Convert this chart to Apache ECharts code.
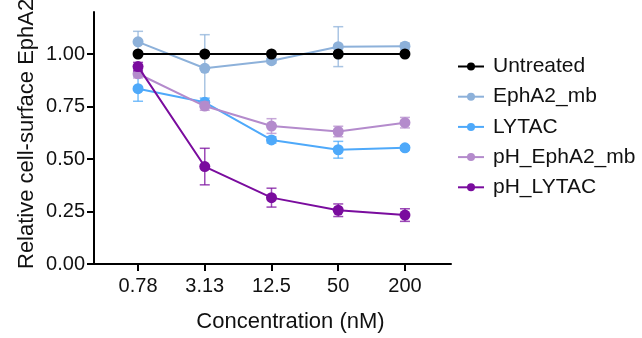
<!DOCTYPE html>
<html><head><meta charset="utf-8">
<script src="https://cdn.jsdelivr.net/npm/echarts@6/dist/echarts.min.js"></script>
<style>html,body{margin:0;padding:0;background:#fff}#c{width:642px;height:338px}</style>
</head><body><div id="c"></div>
<script>
var categories = ['0.78', '3.13', '12.5', '50', '200'];
var yTicks = [0, 0.25, 0.5, 0.75, 1.0];
var seriesNames = ['Untreated', 'EphA2_mb', 'LYTAC', 'pH_EphA2_mb', 'pH_LYTAC'];
var untreated = [1.0, 1.0, 1.0, 1.0, 1.0];
var untreatedErr = [0, 0, 0, 0, 0];
var epha2mb = [1.058, 0.932, 0.968, 1.035, 1.037];
var epha2mbErr = [0.05, 0.16, 0.012, 0.095, 0.015];
var lytac = [0.835, 0.770, 0.591, 0.544, 0.553];
var lytacErr = [0.06, 0.02, 0.015, 0.04, 0.01];
var phEpha2mb = [0.906, 0.752, 0.657, 0.631, 0.673];
var phEpha2mbErr = [0.02, 0.02, 0.035, 0.025, 0.025];
var phLytac = [0.94, 0.464, 0.316, 0.256, 0.233];
var phLytacErr = [0.02, 0.087, 0.045, 0.03, 0.03];
var colors = ['#000000', '#8db1da', '#4ea9fa', '#b48bcc', '#7a0c9e'];

var values = [untreated, epha2mb, lytac, phEpha2mb, phLytac];
var errs = [untreatedErr, epha2mbErr, lytacErr, phEpha2mbErr, phLytacErr];
var FONT = 'Liberation Sans, Arial, sans-serif';

var chart = echarts.init(document.getElementById('c'));
var series = [];
var order = [1, 2, 3, 4, 0];
order.forEach(function (si, k) {
  var vals = values[si], er = errs[si];
  var errData = vals.map(function (v, i) { return [i, v, er[i]]; });
  series.push({
    type: 'custom', name: seriesNames[si] + '_err', z: 2 + k * 2,
    data: errData, silent: true,
    renderItem: function (params, api) {
      var x = api.value(0), y = api.value(1), e = api.value(2);
      if (!e) return null;
      var top = api.coord([x, y + e]), bot = api.coord([x, y - e]);
      var hw = 5;
      var st = { stroke: colors[si], lineWidth: 1.5, opacity: 0.75 };
      return { type: 'group', children: [
        { type: 'line', shape: { x1: top[0], y1: top[1], x2: bot[0], y2: bot[1] }, style: st },
        { type: 'line', shape: { x1: top[0] - hw, y1: top[1], x2: top[0] + hw, y2: top[1] }, style: st },
        { type: 'line', shape: { x1: bot[0] - hw, y1: bot[1], x2: bot[0] + hw, y2: bot[1] }, style: st }
      ]};
    }
  });
  series.push({
    type: 'line', name: seriesNames[si], z: 3 + k * 2,
    data: vals.map(function (v, i) { return [i, v]; }),
    symbol: 'circle', symbolSize: 11,
    lineStyle: { color: colors[si], width: 2 },
    itemStyle: { color: colors[si] },
    emphasis: { disabled: true }
  });
});

chart.setOption({
  animation: false,
  grid: { left: 94, right: 191, top: 12, bottom: 72 },
  legend: {
    data: seriesNames,
    orient: 'vertical', left: 452, top: 51,
    itemWidth: 26, itemHeight: 10, itemGap: 9.2,
    textStyle: { fontFamily: FONT, fontSize: 21, color: '#111', padding: [0, 0, 0, 4] }
  },
  xAxis: {
    type: 'value', min: -0.66, max: 4.69,
    name: 'Concentration (nM)', nameLocation: 'middle', nameGap: 47,
    nameTextStyle: { fontFamily: FONT, fontSize: 22, color: '#111', padding: [0, 0, 0, 36] },
    axisLine: { show: true, onZero: false, lineStyle: { color: '#000', width: 2 } },
    axisTick: { show: true, length: 7, lineStyle: { color: '#000', width: 2 }, customValues: [0, 1, 2, 3, 4] },
    axisLabel: { customValues: [0, 1, 2, 3, 4], margin: 12, fontFamily: FONT, fontSize: 20, color: '#111',
      formatter: function (v) { return categories[Math.round(v)]; } },
    splitLine: { show: false }
  },
  yAxis: {
    type: 'value', min: 0, max: 1.2,
    axisLine: { show: true, onZero: false, lineStyle: { color: '#000', width: 2 } },
    axisTick: { show: true, length: 7, lineStyle: { color: '#000', width: 2 }, customValues: yTicks },
    axisLabel: { customValues: yTicks, margin: 9, fontFamily: FONT, fontSize: 20, color: '#111',
      formatter: function (v) { return v.toFixed(2); } },
    splitLine: { show: false }
  },
  graphic: [{
    type: 'text', x: 27, y: 269, rotation: Math.PI / 2,
    style: { text: 'Relative cell-surface EphA2', fontFamily: FONT, fontSize: 22, fill: '#111',
      textAlign: 'left', textVerticalAlign: 'middle' }
  }],
  series: series
});
</script></body></html>
